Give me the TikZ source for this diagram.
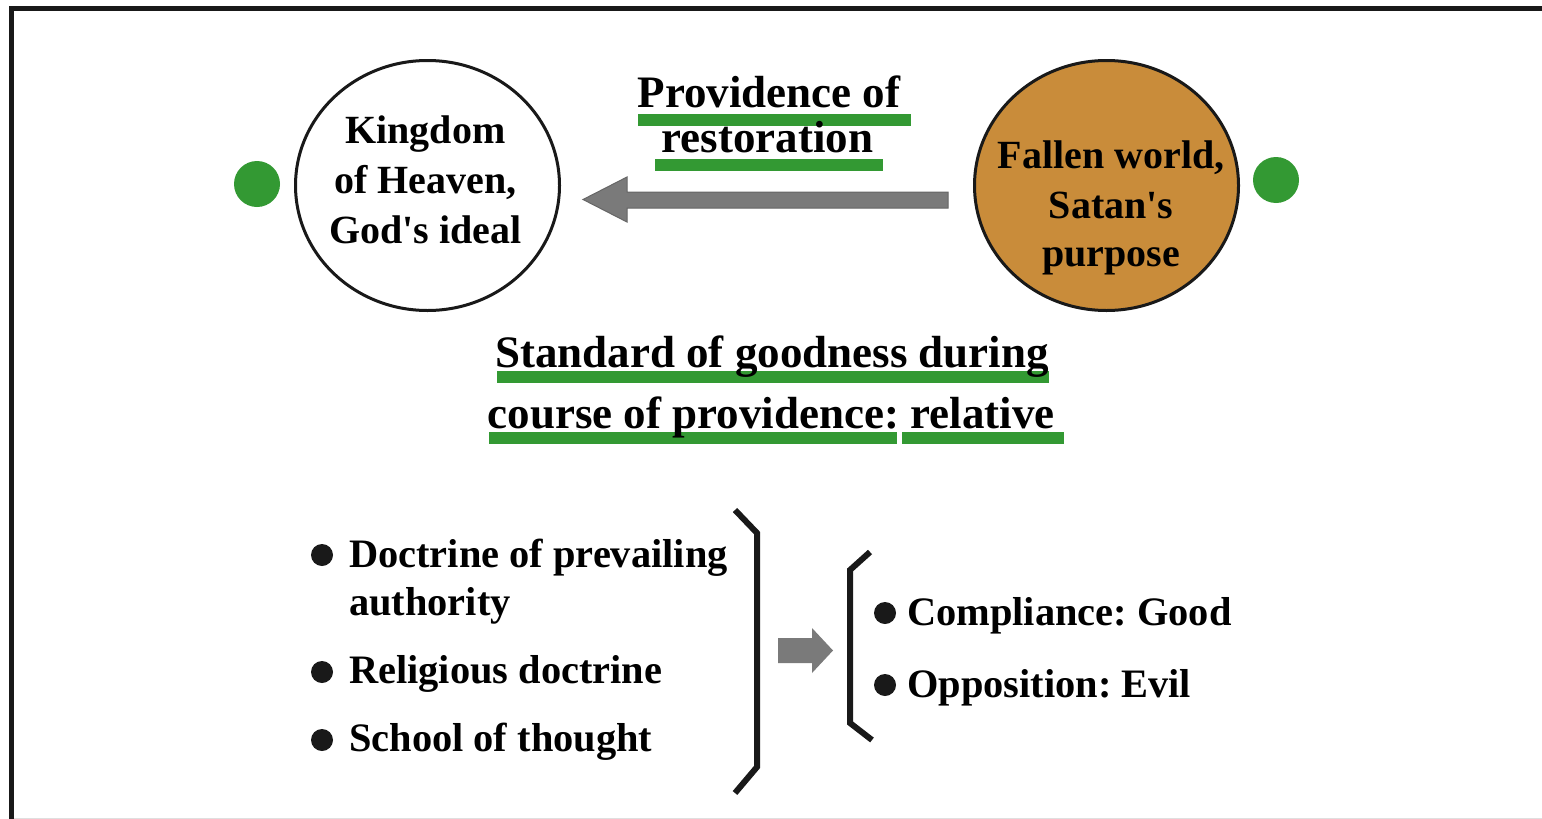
\documentclass[tikz,border=0pt]{standalone}
\usepackage{fontspec}
\setmainfont{Liberation Serif}[Ligatures=TeXOff]
\usetikzlibrary{shapes.geometric}
\definecolor{mygreen}{HTML}{339933}
\definecolor{myorange}{HTML}{C98C3A}
\definecolor{arrowgray}{HTML}{7A7A7A}
\frenchspacing
\begin{document}
\begin{tikzpicture}[x=1pt,y=-1pt,
  txt/.style={font=\bfseries\fontsize{40}{50}\selectfont, inner sep=0pt, anchor=base},
  bigtxt/.style={font=\bfseries\fontsize{45}{54}\selectfont, inner sep=0pt, anchor=base},
  listtxt/.style={font=\bfseries\fontsize{40.4}{50}\selectfont, inner sep=0pt, anchor=base west},
  gbar/.style={fill=mygreen, draw=none},
  bul/.style={circle, fill=black!90, minimum size=22pt, inner sep=0pt},
  gdot/.style={circle, fill=mygreen, minimum size=46pt, inner sep=0pt},
  oval/.style={ellipse, draw=black!90, line width=3pt, minimum width=264pt, minimum height=250pt, inner sep=0pt},
  brk/.style={line width=6pt, line join=miter, black!90},
  blockarrow/.style={fill=arrowgray, draw=black!60, line width=1pt, line join=miter},
]
\useasboundingbox[fill=white] (0,0) rectangle (1542,819);
% frame
\fill[black!90] (9,6) rectangle (1542,11);
\fill[black!90] (9,6) rectangle (14,819);
\draw[gray!25, line width=1.5pt] (14,818.3) -- (1542,818.3);

% circles
\node[oval] (kingdom) at (427.5,185.5) {};
\node[oval, fill=myorange] (fallen) at (1106.5,185.5) {};
\node[gdot] (gl) at (257,184) {};
\node[gdot] (gr) at (1276,180) {};

\node[txt] (k1) at (425.5,143) {Kingdom};
\node[txt] (k2) at (425.5,193) {of Heaven,};
\node[txt] (k3) at (425.5,243) {God's ideal};

\node[txt] (f1) at (1111,168) {Fallen world,};
\node[txt] (f2) at (1111,218) {Satan's};
\node[txt] (f3) at (1111,266) {purpose};

% big arrow
\coordinate (atip) at (583,199.5);
\path[blockarrow] (948,192) -- (627,192) -- (627,177) -- (atip) -- (627,222) -- (627,208) -- (948,208) -- cycle;

% providence label
\fill[gbar] (638,114) rectangle (911,126);
\fill[gbar] (655,159) rectangle (883,171);
\node[bigtxt] (p1) at (769,107) {Providence of};
\node[bigtxt] (p2) at (767.5,152) {restoration};

% standard
\fill[gbar] (497,371) rectangle (1049,383);
\fill[gbar] (489,432) rectangle (897,444);
\fill[gbar] (902,432) rectangle (1064,444);
\node[bigtxt] (s1) at (772,367) {Standard of goodness during};
\node[bigtxt] (s2) at (771,428) {course of providence: relative};

% left list
\node[bul] (b1) at (322,555) {};
\node[bul] (b2) at (322,672) {};
\node[bul] (b3) at (322,740) {};
\node[listtxt] (l1) at (349,567) {Doctrine of prevailing};
\node[listtxt] (l1b) at (349,615) {authority};
\node[listtxt] (l2) at (349,683) {Religious doctrine};
\node[listtxt] (l3) at (349,751) {School of thought};

% brackets
\draw[brk] (735,510) -- (757,533) -- (757,767) -- (735,793);
\draw[brk] (870,552) -- (850,570) -- (850,723) -- (872,740);

% small arrow
\fill[arrowgray] (778,638) -- (812,638) -- (812,628) -- (833,650.5) -- (812,673) -- (812,663) -- (778,663) -- cycle;

% right list
\node[bul] (r1) at (885,613) {};
\node[bul] (r2) at (885,685) {};
\node[listtxt] (c1) at (907,625) {Compliance: Good};
\node[listtxt] (c2) at (907,697) {Opposition: Evil};
\end{tikzpicture}
\end{document}
